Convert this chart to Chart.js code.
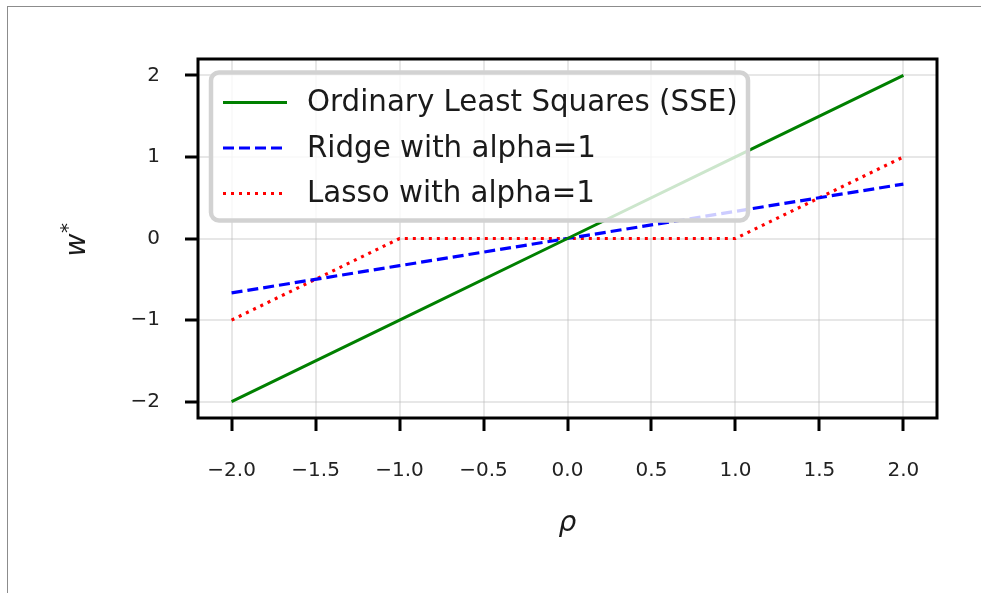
<!DOCTYPE html>
<html>
<head>
<meta charset="utf-8">
<script src="https://cdn.jsdelivr.net/npm/chart.js@4.4.1/dist/chart.umd.min.js"></script>
<style>
  html, body { margin: 0; padding: 0; background: #fff; }
  #wrap { position: relative; width: 981px; height: 593px; overflow: hidden; }
  #frame { position: absolute; left: 7px; top: 6px; right: -10px; bottom: -10px;
           border-left: 1.5px solid #8c8c8c; border-top: 1.5px solid #8c8c8c; pointer-events: none; }
  canvas { position: absolute; left: 0; top: 0; }
</style>
</head>
<body>
<div id="wrap">
  <canvas id="chart" width="981" height="593"></canvas>
  <div id="frame"></div>
</div>
<script>
// --- Data --- //
const rho = [-2, -1, 0, 1, 2];
const olsValues = [-2, -1, 0, 1, 2];
const ridgeValues = [-0.667, -0.333, 0, 0.333, 0.667];
const lassoValues = [-1, 0, 0, 0, 1];
const xTicks = [-2, -1.5, -1, -0.5, 0, 0.5, 1, 1.5, 2];
const yTicks = [-2, -1, 0, 1, 2];
const seriesLabels = ['Ordinary Least Squares (SSE)', 'Ridge with alpha=1', 'Lasso with alpha=1'];

const FONT = "'DejaVu Sans', sans-serif";
const toPoints = (ys) => rho.map((x, i) => ({ x: x, y: ys[i] }));
const minus = (s) => s.replace('-', '\u2212');

// spines on all four sides, above the lines
const framePlugin = {
    id: 'frame',
    afterDatasetsDraw(chart) {
        const { ctx, chartArea: a } = chart;
        ctx.save();
        ctx.strokeStyle = '#000';
        ctx.lineWidth = 3;
        ctx.strokeRect(a.left, a.top, a.right - a.left, a.bottom - a.top);
        ctx.restore();
    }
};

// legend box inside the plot (upper left)
const boxLegendPlugin = {
    id: 'boxLegend',
    afterDraw(chart) {
        const { ctx, chartArea: a } = chart;
        const x0 = a.left + 13, y0 = a.top + 13.5, w = 537, h = 148;
        ctx.save();
        ctx.beginPath();
        ctx.roundRect(x0, y0, w, h, 8);
        ctx.fillStyle = 'rgba(255,255,255,0.8)';
        ctx.fill();
        ctx.lineWidth = 4.5;
        ctx.strokeStyle = '#d2d2d2';
        ctx.stroke();

        chart.data.datasets.forEach((ds, i) => {
            const y = y0 + 30 + i * 45.5;
            ctx.beginPath();
            ctx.setLineDash(ds.borderDash || []);
            ctx.lineWidth = ds.borderWidth;
            ctx.strokeStyle = ds.borderColor;
            ctx.lineCap = 'butt';
            ctx.moveTo(x0 + 12, y);
            ctx.lineTo(x0 + 76, y);
            ctx.stroke();
            ctx.setLineDash([]);
            ctx.fillStyle = '#1a1a1a';
            ctx.font = '29.3px ' + FONT;
            ctx.textAlign = 'left';
            ctx.textBaseline = 'middle';
            ctx.fillText(ds.label, x0 + 96, y + 1);
        });
        ctx.restore();
    }
};

// y axis label w^* (rotated)
const yTitlePlugin = {
    id: 'yTitle',
    afterDraw(chart) {
        const ctx = chart.ctx;
        ctx.save();
        ctx.translate(85, 245);
        ctx.rotate(-Math.PI / 2);
        ctx.fillStyle = '#1a1a1a';
        ctx.textBaseline = 'alphabetic';
        ctx.textAlign = 'center';
        ctx.font = 'italic 28px ' + FONT;
        ctx.fillText('w', 0, 0);
        ctx.textAlign = 'left';
        ctx.font = '20px ' + FONT;
        ctx.fillText('*', 12, -11);
        ctx.restore();
    }
};

const ctx = document.getElementById('chart').getContext('2d');
new Chart(ctx, {
    type: 'line',
    data: {
        datasets: [
            {
                label: seriesLabels[0],
                data: toPoints(olsValues),
                borderColor: '#008000',
                borderWidth: 3
            },
            {
                label: seriesLabels[1],
                data: toPoints(ridgeValues),
                borderColor: '#0000ff',
                borderWidth: 3.2,
                borderDash: [11, 5]
            },
            {
                label: seriesLabels[2],
                data: toPoints(lassoValues),
                borderColor: '#ff0000',
                borderWidth: 3.2,
                borderDash: [3, 5]
            }
        ]
    },
    options: {
        responsive: false,
        animation: false,
        devicePixelRatio: 1,
        elements: {
            point: { radius: 0 },
            line: { tension: 0, fill: false, borderCapStyle: 'butt' }
        },
        layout: { padding: { left: 0, top: 59, right: 44, bottom: 0 } },
        plugins: {
            legend: { display: false },
            tooltip: { enabled: false }
        },
        scales: {
            x: {
                type: 'linear',
                min: -2.2,
                max: 2.2,
                afterBuildTicks: (scale) => { scale.ticks = xTicks.map(v => ({ value: v })); },
                afterFit: (scale) => { scale.height = 175; },
                border: { display: false },
                grid: {
                    color: 'rgba(176,176,176,0.3)',
                    lineWidth: 2,
                    tickColor: '#000',
                    tickWidth: 3,
                    tickLength: 13
                },
                ticks: {
                    padding: 28,
                    maxRotation: 0,
                    color: '#222',
                    font: { family: FONT, size: 20 },
                    callback: (v) => minus(Number(v).toFixed(1))
                },
                title: {
                    display: true,
                    text: '\u03c1',
                    color: '#1a1a1a',
                    font: { family: FONT, size: 28, style: 'italic' },
                    padding: { top: 0, bottom: 52 }
                }
            },
            y: {
                type: 'linear',
                min: -2.2,
                max: 2.2,
                afterBuildTicks: (scale) => { scale.ticks = yTicks.map(v => ({ value: v })); },
                afterFit: (scale) => { scale.width = 198; },
                border: { display: false },
                grid: {
                    color: 'rgba(176,176,176,0.3)',
                    lineWidth: 2,
                    tickColor: '#000',
                    tickWidth: 3,
                    tickLength: 13
                },
                ticks: {
                    padding: 25,
                    color: '#222',
                    font: { family: FONT, size: 20 },
                    callback: (v) => minus(String(v))
                }
            }
        }
    },
    plugins: [framePlugin, boxLegendPlugin, yTitlePlugin]
});
</script>
</body>
</html>
